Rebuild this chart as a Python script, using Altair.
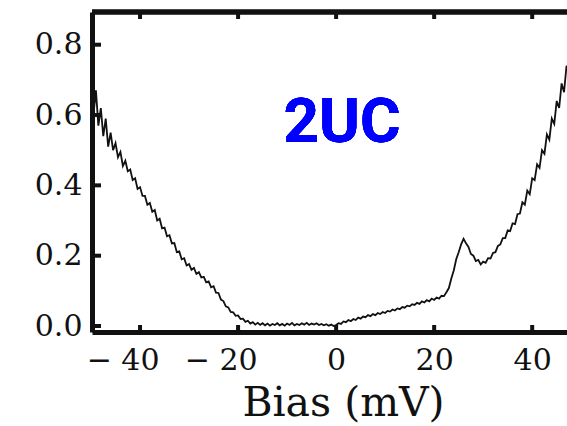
import altair as alt
import pandas as pd

bias = [
    -50.0, -49.5, -49.0, -48.5, -48.0, -47.5, -47.0, -46.5, -46.0, -45.5,
    -45.0, -44.5, -44.0, -43.5, -43.0, -42.5, -42.0, -41.5, -41.0, -40.5,
    -40.0, -39.5, -39.0, -38.5, -38.0, -37.5, -37.0, -36.5, -36.0, -35.5,
    -35.0, -34.5, -34.0, -33.5, -33.0, -32.5, -32.0, -31.5, -31.0, -30.5,
    -30.0, -29.5, -29.0, -28.5, -28.0, -27.5, -27.0, -26.5, -26.0, -25.5,
    -25.0, -24.5, -24.0, -23.5, -23.0, -22.5, -22.0, -21.5, -21.0, -20.5,
    -20.0, -19.5, -19.0, -18.5, -18.0, -17.5, -17.0, -16.5, -16.0, -15.5,
    -15.0, -14.5, -14.0, -13.5, -13.0, -12.5, -12.0, -11.5, -11.0, -10.5,
    -10.0, -9.5, -9.0, -8.5, -8.0, -7.5, -7.0, -6.5, -6.0, -5.5,
    -5.0, -4.5, -4.0, -3.5, -3.0, -2.5, -2.0, -1.5, -1.0, -0.5,
    0.0, 0.5, 1.0, 1.5, 2.0, 2.5, 3.0, 3.5, 4.0, 4.5,
    5.0, 5.5, 6.0, 6.5, 7.0, 7.5, 8.0, 8.5, 9.0, 9.5,
    10.0, 10.5, 11.0, 11.5, 12.0, 12.5, 13.0, 13.5, 14.0, 14.5,
    15.0, 15.5, 16.0, 16.5, 17.0, 17.5, 18.0, 18.5, 19.0, 19.5,
    20.0, 20.5, 21.0, 21.5, 22.0, 22.5, 23.0, 23.5, 24.0, 24.5,
    25.0, 25.5, 26.0, 26.5, 27.0, 27.5, 28.0, 28.5, 29.0, 29.5,
    30.0, 30.5, 31.0, 31.5, 32.0, 32.5, 33.0, 33.5, 34.0, 34.5,
    35.0, 35.5, 36.0, 36.5, 37.0, 37.5, 38.0, 38.5, 39.0, 39.5,
    40.0, 40.5, 41.0, 41.5, 42.0, 42.5, 43.0, 43.5, 44.0, 44.5,
    45.0, 45.5, 46.0, 46.5, 47.0, 47.5,
]

signal = [
    0.66, 0.60, 0.67, 0.57, 0.62, 0.54, 0.59, 0.51, 0.55, 0.50,
    0.52, 0.48, 0.495, 0.455, 0.47, 0.44, 0.445, 0.415, 0.42, 0.39,
    0.395, 0.37, 0.37, 0.345, 0.35, 0.325, 0.33, 0.30, 0.305, 0.278,
    0.28, 0.255, 0.258, 0.235, 0.236, 0.21, 0.212, 0.19, 0.193, 0.172,
    0.176, 0.16, 0.165, 0.148, 0.153, 0.138, 0.14, 0.124, 0.127, 0.11,
    0.113, 0.095, 0.094, 0.075, 0.071, 0.056, 0.053, 0.04, 0.039, 0.029,
    0.03, 0.02, 0.021, 0.012, 0.015, 0.007, 0.011, 0.004, 0.009, 0.003,
    0.008, 0.002, 0.007, 0.001, 0.006, 0.003, 0.008, 0.002, 0.006, 0.001,
    0.007, 0.003, 0.009, 0.002, 0.006, 0.003, 0.008, 0.004, 0.009, 0.003,
    0.007, 0.004, 0.008, 0.003, 0.006, 0.002, 0.005, 0.001, 0.004, 0.0,
    0.003, 0.008, 0.006, 0.013, 0.011, 0.017, 0.014, 0.02, 0.017, 0.024,
    0.021, 0.027, 0.025, 0.031, 0.028, 0.034, 0.031, 0.037, 0.034, 0.04,
    0.037, 0.043, 0.041, 0.047, 0.044, 0.05, 0.048, 0.054, 0.052, 0.058,
    0.056, 0.062, 0.06, 0.066, 0.063, 0.07, 0.067, 0.074, 0.07, 0.078,
    0.074, 0.081, 0.078, 0.086, 0.085, 0.096, 0.108, 0.135, 0.158, 0.19,
    0.21, 0.232, 0.248, 0.235, 0.225, 0.205, 0.2, 0.185, 0.188, 0.175,
    0.183, 0.18, 0.193, 0.192, 0.208, 0.21, 0.228, 0.232, 0.25, 0.25,
    0.272, 0.27, 0.292, 0.29, 0.318, 0.32, 0.352, 0.345, 0.385, 0.375,
    0.42, 0.415, 0.46, 0.45, 0.5, 0.49, 0.545, 0.53, 0.59, 0.575,
    0.64, 0.62, 0.69, 0.665, 0.74, 0.72,
]

x_ticks = [-40, -20, 0, 20, 40]
y_ticks = [0.0, 0.2, 0.4, 0.6, 0.8]
x_domain = [-49.8, 47.1]
y_domain = [-0.017, 0.893]
label_text = "2UC"
x_title = "Bias (mV)"

W, H = 475, 320

df = pd.DataFrame({"bias": bias, "signal": signal})
xt = pd.DataFrame({"t": x_ticks})
yt = pd.DataFrame({"t": y_ticks})

xscale = alt.Scale(domain=x_domain, nice=False, zero=False)
yscale = alt.Scale(domain=y_domain, nice=False, zero=False)

serif = "DejaVu Serif"
ink = "#111111"

neg = "datum.value < 0"
line = alt.Chart(df).mark_line(color=ink, strokeWidth=1.8, clip=True).encode(
    x=alt.X(
        "bias:Q", scale=xscale,
        axis=alt.Axis(
            values=x_ticks, ticks=False, tickSize=0, grid=False,
            domainColor=ink, domainWidth=5,
            labelFont=serif, labelFontSize=30, labelColor=ink,
            labelPadding=13, labelBaseline="top",
            labelExpr="datum.value < 0 ? '\u2212 ' + format(abs(datum.value), 'd') : format(datum.value, 'd')",
            labelAlign=alt.condition(neg, alt.value("right"), alt.value("center")),
            labelOffset=alt.condition(neg, alt.value(19), alt.value(0)),
            title=x_title, titleFont=serif, titleFontSize=41, titleFontWeight="normal",
            titleColor=ink, titleX=251, titleY=83, titleBaseline="alphabetic",
            titleAlign="center", labelFlush=False, labelOverlap=False,
        ),
    ),
    y=alt.Y(
        "signal:Q", scale=yscale,
        axis=alt.Axis(
            values=y_ticks, ticks=False, tickSize=0, grid=False, format=".1f",
            domainColor=ink, domainWidth=5,
            labelFont=serif, labelFontSize=30, labelColor=ink,
            labelPadding=10, title=None, labelFlush=False, labelOverlap=False,
        ),
    ),
)

top_frame = alt.Chart(xt).mark_rule(color=ink, strokeWidth=4.5).encode(
    x=alt.value(0), x2=alt.value(W), y=alt.value(0)
)

bottom_ticks = alt.Chart(xt).mark_rule(color=ink, strokeWidth=4).encode(
    x=alt.X("t:Q", scale=xscale), y=alt.value(H), y2=alt.value(H - 7)
)
top_ticks = alt.Chart(xt).mark_rule(color=ink, strokeWidth=4).encode(
    x=alt.X("t:Q", scale=xscale), y=alt.value(0), y2=alt.value(7)
)
left_ticks = alt.Chart(yt).mark_rule(color=ink, strokeWidth=4).encode(
    y=alt.Y("t:Q", scale=yscale), x=alt.value(0), x2=alt.value(9)
)

label = alt.Chart(xt).mark_text(
    text=label_text, font="Roboto", fontSize=62,
    fontWeight="bold", color="#0000ff", align="center", baseline="alphabetic",
).encode(x=alt.value(250), y=alt.value(130))

chart = alt.layer(line, top_frame, bottom_ticks, top_ticks, left_ticks, label).properties(
    width=W, height=H,
    autosize=alt.AutoSizeParams(type="none"),
    padding={"left": 92, "top": 12, "right": 0, "bottom": 94},
).configure_view(stroke=None).configure(background="white")

chart.save("out.html", embed_options={"renderer": "svg", "actions": False})
